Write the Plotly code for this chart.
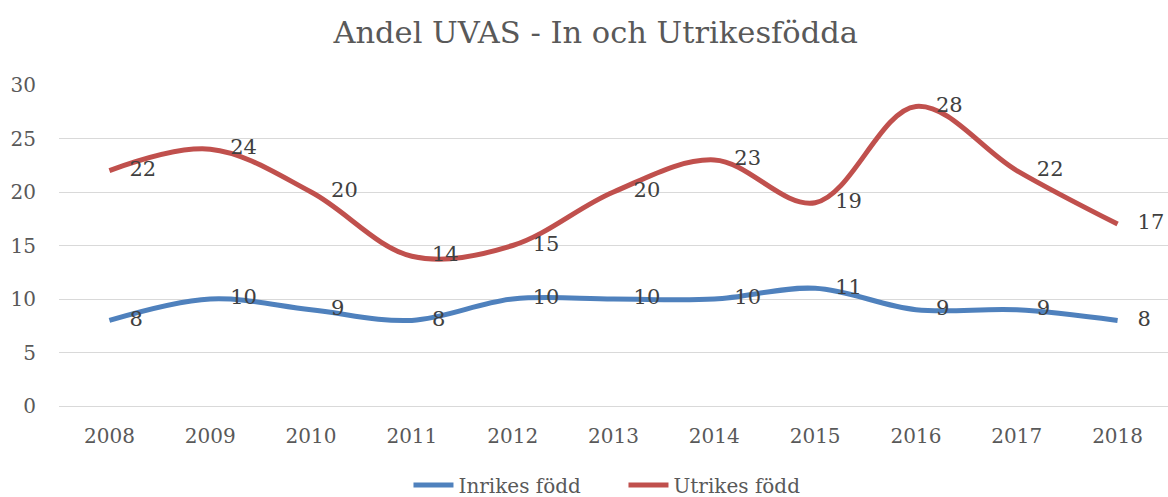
import plotly.graph_objects as go

years = ["2008", "2009", "2010", "2011", "2012", "2013", "2014", "2015", "2016", "2017", "2018"]
inrikes = [8, 10, 9, 8, 10, 10, 10, 11, 9, 9, 8]
utrikes = [22, 24, 20, 14, 15, 20, 23, 19, 28, 22, 17]

FONT = "DejaVu Serif"
PAD = "   "

fig = go.Figure()
fig.add_trace(go.Scatter(
    x=years, y=inrikes, name="Inrikes född", mode="lines+text",
    text=[PAD + str(v) for v in inrikes], textposition="middle right",
    textfont=dict(family=FONT, size=21, color="#404040"),
    line=dict(color="#4F81BD", width=5, shape="spline", smoothing=1),
    cliponaxis=False,
))
fig.add_trace(go.Scatter(
    x=years, y=utrikes, name="Utrikes född", mode="lines+text",
    text=[PAD + str(v) for v in utrikes], textposition="middle right",
    textfont=dict(family=FONT, size=21, color="#404040"),
    line=dict(color="#C0504D", width=5, shape="spline", smoothing=1),
    cliponaxis=False,
))

fig.update_layout(
    width=1168, height=497,
    margin=dict(l=59, r=0, t=85, b=91, autoexpand=False),
    paper_bgcolor="white", plot_bgcolor="white",
    font=dict(family=FONT, size=20, color="#595959"),
    title=dict(text="Andel UVAS - In och Utrikesfödda", x=0.51, xanchor="center",
               y=0.934, yanchor="middle",
               font=dict(family=FONT, size=30.5, color="#595959")),
    showlegend=True,
    legend=dict(orientation="h", x=0.509, xanchor="center", y=-0.185, yanchor="top",
                font=dict(family=FONT, size=20, color="#595959"),
                itemwidth=40, entrywidth=160, entrywidthmode="pixels", tracegroupgap=0),
    xaxis=dict(range=[-0.5, 10.5], showgrid=False, showline=False, zeroline=False, ticks="",
               tickfont=dict(family=FONT, size=20, color="#595959"),
               ticklabelstandoff=16),
    yaxis=dict(range=[0, 30], dtick=5, showgrid=True, gridcolor="#D9D9D9", gridwidth=1.3,
               zeroline=True, zerolinecolor="#D9D9D9", zerolinewidth=1.3,
               showline=False, ticks="",
               tickfont=dict(family=FONT, size=20, color="#595959"),
               ticklabelstandoff=22),
)

fig.write_html("out.html", config={"displayModeBar": False},
               post_script="document.body.style.margin='0';document.body.style.overflow='hidden';")
